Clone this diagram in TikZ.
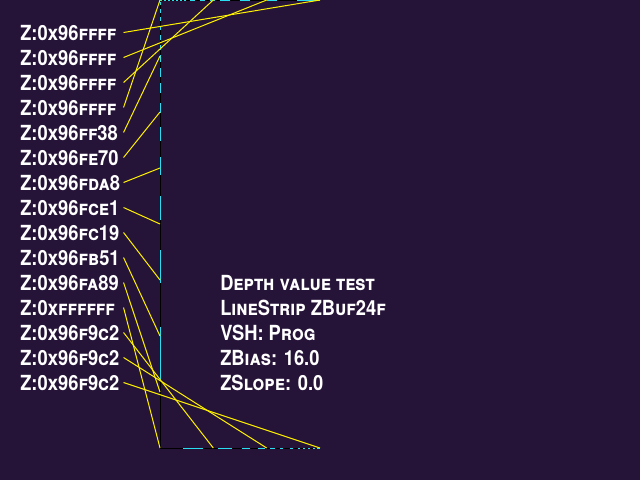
\documentclass[tikz,border=0pt]{standalone}
\usepackage{fontspec}
\newfontfamily\pixfont{TeX Gyre Heros}[Letters=SmallCaps,FakeStretch=0.88]
\definecolor{bgpurple}{RGB}{38,19,56}
\definecolor{passcyan}{RGB}{40,222,240}
\begin{document}
\begin{tikzpicture}[x=0.75pt,y=-0.75pt,
  zlabel/.style={anchor=base west,inner sep=0pt,text width=77.25pt,align=left,
    text height=11.25pt,text depth=0pt,text=white,font=\pixfont\bfseries\fontsize{15.6}{18}\selectfont},
  infotext/.style={anchor=base west,inner sep=0pt,text=white,
    font=\pixfont\bfseries\fontsize{15.6}{18}\selectfont},
  strip/.style={black,line width=0.75pt},
  pass/.style={passcyan,line width=0.75pt},
  probe/.style={yellow,line width=0.75pt}]
\fill[bgpurple] (0,0) rectangle (640,480);
\useasboundingbox (0,0) rectangle (640,480);
% vertices of the strip
\foreach \x/\y [count=\i] in {320/0,266.7/0,213.3/0,160/0,160/56,160/112,160/168,
    160/224,160/280,160/336,160/392,160/448,213.3/448,266.7/448,320/448}
  \coordinate (v\i) at (\x,\y);
\draw[strip] (v1) -- (v4) -- (v12) -- (v15);
% fragments that pass
\foreach \a/\b in {160/162,164/166,168/170,172/174,176/178,180/182,184/186,
    190/195,200/205,210/215,220/230,240/250,267/277,297/320}
  \draw[pass] (\a,0.5) -- (\b,0.5);
\foreach \a/\b in {2/5,9/13,17/21,26/30,35/40,45/50,55/62,68/77,83/93,103/113,
    127/141,157/175,196/220,250/283,327/380}
  \draw[pass] (160,\a) -- (160,\b);
\foreach \a/\b in {183/203,218/232,242/250,258/265,270/275,280/283,290/293,
    298/300,303/305,308/310,313/315,317/320}
  \draw[pass] (\a,448) -- (\b,448);
% depth readouts
\foreach \z [count=\i] in {96ffff,96ffff,96ffff,96ffff,96ff38,96fe70,96fda8,
    96fce1,96fc19,96fb51,96fa89,ffffff,96f9c2,96f9c2,96f9c2}
  \node[zlabel] (l\i) at (20,15+25*\i) {Z:0x\z};
\foreach \i in {1,...,15}
  \draw[probe] (l\i.east) -- (v\i);
% test info
\node[infotext] (t1) at (220,290) {Depth value test};
\node[infotext] (t2) at (220,315) {LineStrip ZBuf24f};
\node[infotext] (t3) at (220,340) {VSH: Prog};
\node[infotext] (t4) at (220,365) {ZBias: 16.0};
\node[infotext] (t5) at (220,390) {ZSlope: 0.0};
\end{tikzpicture}
\end{document}
